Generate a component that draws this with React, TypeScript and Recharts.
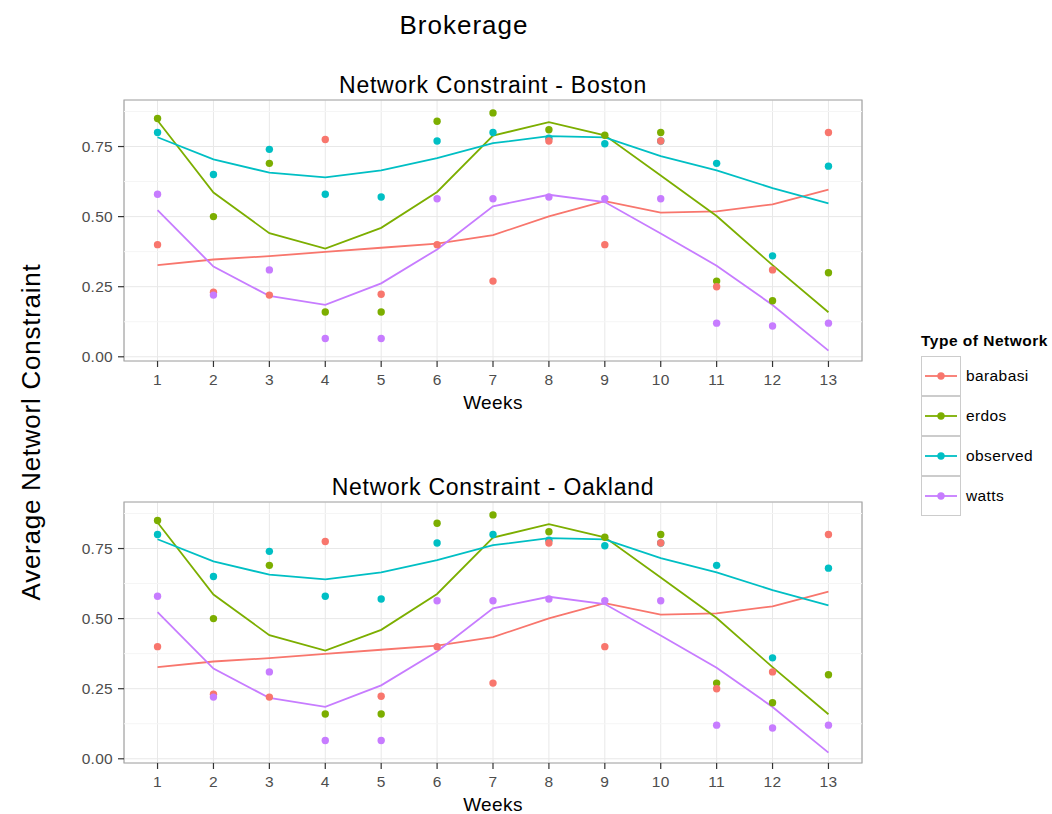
import React from 'react';
import {
  ComposedChart,
  Line,
  Scatter,
  XAxis,
  YAxis,
  CartesianGrid,
  ReferenceLine,
  ReferenceArea,
} from 'recharts';

const weeks = [1, 2, 3, 4, 5, 6, 7, 8, 9, 10, 11, 12, 13];

// observed points
const barabasiPts = [0.4, 0.23, 0.22, 0.775, 0.223, 0.4, 0.27, 0.77, 0.4, 0.77, 0.25, 0.31, 0.8];
const erdosPts = [0.85, 0.5, 0.69, 0.16, 0.16, 0.84, 0.87, 0.81, 0.79, 0.8, 0.27, 0.2, 0.3];
const observedPts = [0.8, 0.65, 0.74, 0.58, 0.57, 0.77, 0.8, 0.78, 0.76, 0.77, 0.69, 0.36, 0.68];
const wattsPts = [0.58, 0.22, 0.31, 0.065, 0.065, 0.564, 0.564, 0.57, 0.564, 0.564, 0.12, 0.11, 0.12];

// smoothed fits
const barabasiFit = [0.327, 0.347, 0.359, 0.374, 0.389, 0.404, 0.434, 0.501, 0.555, 0.514, 0.519, 0.544, 0.596];
const erdosFit = [0.843, 0.586, 0.441, 0.386, 0.46, 0.588, 0.789, 0.837, 0.79, 0.647, 0.502, 0.327, 0.159];
const observedFit = [0.783, 0.704, 0.657, 0.64, 0.665, 0.709, 0.762, 0.787, 0.783, 0.716, 0.665, 0.602, 0.547];
const wattsFit = [0.523, 0.322, 0.217, 0.185, 0.262, 0.383, 0.537, 0.578, 0.552, 0.44, 0.325, 0.185, 0.022];

const yTicks = [0, 0.25, 0.5, 0.75];
const yMinor = [0.125, 0.375, 0.625, 0.875];
const Y_DOMAIN: [number, number] = [-0.015, 0.916];
const X_DOMAIN: [number, number] = [0.4, 13.6];

const SERIES = [
  { key: 'barabasi', color: '#F8766D' },
  { key: 'erdos', color: '#7CAE00' },
  { key: 'observed', color: '#00BFC4' },
  { key: 'watts', color: '#C77CFF' },
];
// drawing order of the dots
const POINT_ORDER = ['observed', 'erdos', 'barabasi', 'watts'];

const data = weeks.map((w, i) => ({
  week: w,
  barabasi: barabasiPts[i],
  erdos: erdosPts[i],
  observed: observedPts[i],
  watts: wattsPts[i],
  barabasiFit: barabasiFit[i],
  erdosFit: erdosFit[i],
  observedFit: observedFit[i],
  wattsFit: wattsFit[i],
}));

const FONT = '"Liberation Sans", Arial, Helvetica, sans-serif';
const colorOf = (k: string) => SERIES.find((s) => s.key === k)!.color;
const tickStyle = { fill: '#4d4d4d', fontSize: 15.5, fontFamily: FONT, letterSpacing: 0.3 };

function Panel({ title, top }: { title: string; top: number }) {
  return (
    <div style={{ position: 'absolute', left: 0, top, width: 1052, height: 420 }}>
      <div
        style={{
          position: 'absolute',
          left: 124,
          width: 738,
          top: 72,
          textAlign: 'center',
          fontSize: 23,
          letterSpacing: 0.75,
          color: '#000',
        }}
      >
        {title}
      </div>
      <ComposedChart
        width={1052}
        height={400}
        data={data}
        margin={{ top: 100, right: 190, bottom: 9, left: 74 }}
      >
        <CartesianGrid stroke="#e8e8e8" strokeWidth={1} />
        {yMinor.map((v) => (
          <ReferenceLine key={v} y={v} stroke="#f5f5f5" strokeWidth={1} />
        ))}
        <XAxis
          type="number"
          dataKey="week"
          domain={X_DOMAIN}
          ticks={weeks}
          interval={0}
          allowDataOverflow
          axisLine={false}
          tickSize={6}
          tickMargin={7}
          tickLine={{ stroke: '#333', strokeWidth: 1.2 }}
          tick={tickStyle}
          height={30}
        />
        <YAxis
          type="number"
          domain={Y_DOMAIN}
          ticks={yTicks}
          interval={0}
          allowDataOverflow
          axisLine={false}
          tickSize={6}
          tickMargin={5}
          tickLine={{ stroke: '#333', strokeWidth: 1.2 }}
          tickFormatter={(v: number) => v.toFixed(2)}
          tick={tickStyle}
          width={50}
        />
        {POINT_ORDER.map((k) => (
          <Scatter
            key={k}
            dataKey={k}
            isAnimationActive={false}
            shape={(p: any) => <circle cx={p.cx} cy={p.cy} r={3.7} fill={colorOf(k)} />}
          />
        ))}
        {SERIES.map((s) => (
          <Line
            key={s.key + 'Fit'}
            type="linear"
            dataKey={s.key + 'Fit'}
            stroke={s.color}
            strokeWidth={1.8}
            dot={false}
            activeDot={false}
            isAnimationActive={false}
          />
        ))}
        <ReferenceArea
          x1={X_DOMAIN[0]}
          x2={X_DOMAIN[1]}
          y1={Y_DOMAIN[0]}
          y2={Y_DOMAIN[1]}
          fill="none"
          fillOpacity={0}
          stroke="#a6a6a6"
          strokeWidth={1.2}
          ifOverflow="visible"
        />
      </ComposedChart>
      <div
        style={{
          position: 'absolute',
          left: 124,
          width: 738,
          top: 392,
          textAlign: 'center',
          fontSize: 19,
          letterSpacing: 0.4,
          color: '#000',
        }}
      >
        Weeks
      </div>
    </div>
  );
}

function Legend() {
  return (
    <div style={{ position: 'absolute', left: 921, top: 332 }}>
      <div style={{ fontSize: 15.5, fontWeight: 'bold', letterSpacing: 0.5, color: '#000', height: 24 }}>
        Type of Network
      </div>
      {SERIES.map((s) => (
        <div key={s.key} style={{ display: 'flex', alignItems: 'center', height: 40 }}>
          <svg width={40} height={40} style={{ display: 'block' }}>
            <rect x={0.5} y={0.5} width={39} height={39} fill="#fff" stroke="#cccccc" />
            <line x1={4} x2={36} y1={20} y2={20} stroke={s.color} strokeWidth={1.8} />
            <circle cx={20} cy={20} r={3.7} fill={s.color} />
          </svg>
          <span style={{ marginLeft: 5, fontSize: 15.5, letterSpacing: 0.4, color: '#000' }}>{s.key}</span>
        </div>
      ))}
    </div>
  );
}

export default function App() {
  return (
    <div
      style={{
        position: 'absolute',
        left: 0,
        top: 0,
        width: 1052,
        height: 814,
        background: '#fff',
        fontFamily: FONT,
        overflow: 'hidden',
      }}
    >
      <div
        style={{
          position: 'absolute',
          left: 124,
          width: 680,
          top: 10,
          textAlign: 'center',
          fontSize: 26,
          letterSpacing: 1,
          color: '#000',
        }}
      >
        Brokerage
      </div>
      <div
        style={{
          position: 'absolute',
          left: 31,
          top: 432,
          transform: 'translate(-50%, -50%) rotate(-90deg)',
          fontSize: 26,
          letterSpacing: 0.75,
          whiteSpace: 'nowrap',
          color: '#000',
        }}
      >
        Average Networl Constraint
      </div>
      <Panel title="Network Constraint - Boston" top={0} />
      <Panel title="Network Constraint - Oakland" top={402} />
      <Legend />
    </div>
  );
}
